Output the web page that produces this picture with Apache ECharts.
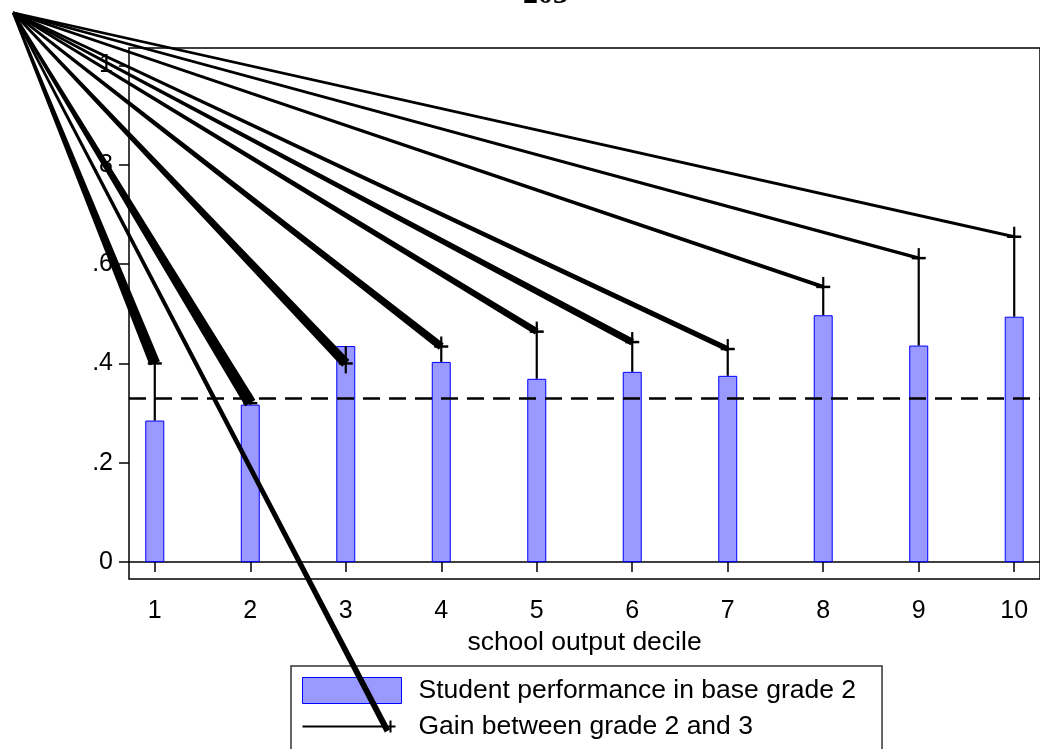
<!DOCTYPE html>
<html><head><meta charset="utf-8">
<script src="https://cdn.jsdelivr.net/npm/echarts@6/dist/echarts.min.js"></script>
<style>html,body{margin:0;padding:0;background:#fff;}#c{width:1040px;height:749px;}</style>
</head><body><div id="c"></div>
<script>
// ---- data ----
const deciles = [1, 2, 3, 4, 5, 6, 7, 8, 9, 10];
const baseScore = [0.285, 0.317, 0.435, 0.403, 0.369, 0.383, 0.375, 0.497, 0.436, 0.494];
const gainScore = [0.115, 0.003, -0.035, 0.031, 0.095, 0.060, 0.054, 0.057, 0.176, 0.161];
const yTicks = [0, 0.2, 0.4, 0.6, 0.8, 1];
const yTickLabels = ['0', '.2', '.4', '.6', '.8', '1'];
const xTicks = [1, 2, 3, 4, 5, 6, 7, 8, 9, 10];
const xTickLabels = ['1', '2', '3', '4', '5', '6', '7', '8', '9', '10'];
const referenceLevel = 1 / 3;
const seriesNames = ['Student performance in base grade 2', 'Gain between grade 2 and 3'];
const xTitle = 'school output decile';
const pageNumber = '203';
// stray arrow artefact of the original graph (data coordinates)
const arrowOrigin = [-0.484, 1.106];
const legendArrowEnd = [3.437, -0.340];

// ---- styles ----
const FONT = 'Liberation Sans, Arial, sans-serif';
const wedgeEndWidth = [11, 12, 10, 8, 7, 7, 5.5, 4, 3.5, 3];
const legendWedgeWidth = 6;

function wedge(po, pt, w0, w1) {
  const dx = pt[0] - po[0], dy = pt[1] - po[1];
  const L = Math.sqrt(dx * dx + dy * dy);
  const nx = -dy / L, ny = dx / L;
  return {
    type: 'polygon',
    shape: { points: [
      [po[0] + nx * w0 / 2, po[1] + ny * w0 / 2],
      [pt[0] + nx * w1 / 2, pt[1] + ny * w1 / 2],
      [pt[0] - nx * w1 / 2, pt[1] - ny * w1 / 2],
      [po[0] - nx * w0 / 2, po[1] - ny * w0 / 2]
    ] },
    style: { fill: '#000' }
  };
}

const chart = echarts.init(document.getElementById('c'), null, { renderer: 'canvas' });
chart.setOption({
  animation: false,
  backgroundColor: '#fff',
  grid: { left: 129, top: 48, width: 919, height: 531, show: true, borderColor: '#000', borderWidth: 1.5, backgroundColor: 'transparent' },
  xAxis: {
    type: 'value', min: 0.73, max: 10.27,
    axisLine: { show: true, lineStyle: { color: '#000', width: 1.5 } },
    axisTick: { show: true, customValues: xTicks, length: 10, lineStyle: { color: '#000', width: 1.5 } },
    axisLabel: { customValues: xTicks, formatter: v => xTickLabels[xTicks.indexOf(v)], fontSize: 25, fontFamily: FONT, color: '#000', margin: 20 },
    splitLine: { show: false },
    name: xTitle, nameLocation: 'middle', nameGap: 44,
    nameTextStyle: { fontSize: 26.5, fontFamily: FONT, color: '#000' }
  },
  yAxis: {
    type: 'value', min: -0.034, max: 1.035,
    axisLine: { show: false },
    axisTick: { show: true, customValues: yTicks, length: 10, lineStyle: { color: '#000', width: 1.5 } },
    axisLabel: { customValues: yTicks, formatter: v => yTickLabels[yTicks.indexOf(v)], fontSize: 25, fontFamily: FONT, color: '#000', margin: 16 },
    splitLine: { show: false }
  },
  legend: {
    orient: 'vertical', left: 291, top: 666, height: 140,
    padding: [11, 26, 12, 11], itemWidth: 99, itemHeight: 26, itemGap: 9,
    borderColor: '#333', borderWidth: 1.5, selectedMode: false,
    textStyle: { fontSize: 26.5, fontFamily: FONT, color: '#000', padding: [0, 0, 0, 12] },
    data: [
      { name: seriesNames[0], icon: 'rect', itemStyle: { color: '#9999ff', borderColor: '#0000ff', borderWidth: 1 } },
      { name: seriesNames[1], icon: 'path://M0,0h0.01v0.01h-0.01z M0,12h93v2h-93z M87,7h2v12h-2z M98.99,25.99h0.01v0.01h-0.01z', itemStyle: { color: '#000' } }
    ]
  },
  graphic: [{
    type: 'text', left: 523, top: -20,
    style: { text: pageNumber, font: 'bold 30px Liberation Serif, serif', fill: '#000' }
  }],
  series: [
    {
      name: seriesNames[0], type: 'bar', barWidth: 19, z: 2,
      data: deciles.map((d, i) => [d, baseScore[i]]),
      itemStyle: { color: '#9999ff', borderColor: '#0000ff', borderWidth: 1 },
      markLine: {
        silent: true, symbol: 'none', label: { show: false },
        lineStyle: { color: '#000', width: 2.5, type: [17, 9] },
        data: [{ yAxis: referenceLevel }]
      }
    },
    {
      name: seriesNames[1], type: 'custom', clip: false, z: 5,
      data: deciles.map((d, i) => [d, baseScore[i], baseScore[i] + gainScore[i]]),
      renderItem: function (params, api) {
        const i = params.dataIndex;
        const x = api.value(0), b = api.value(1), t = api.value(2);
        const pb = api.coord([x, b]), pt = api.coord([x, t]);
        const po = api.coord(arrowOrigin);
        const dir = t >= b ? -1 : 1;
        return {
          type: 'group',
          children: [
            { type: 'line', shape: { x1: pb[0], y1: pb[1], x2: pt[0], y2: pt[1] + dir * 10 }, style: { stroke: '#000', lineWidth: 2.2 } },
            { type: 'line', shape: { x1: pt[0] - 7, y1: pt[1], x2: pt[0] + 7, y2: pt[1] }, style: { stroke: '#000', lineWidth: 2.5 } },
            wedge(po, pt, 2.5, wedgeEndWidth[i])
          ]
        };
      }
    },
    {
      type: 'custom', clip: false, z: 6, silent: true,
      data: [legendArrowEnd],
      renderItem: function (params, api) {
        const pt = api.coord([api.value(0), api.value(1)]);
        const po = api.coord(arrowOrigin);
        return wedge(po, pt, 2.5, legendWedgeWidth);
      }
    }
  ]
});
</script></body></html>
